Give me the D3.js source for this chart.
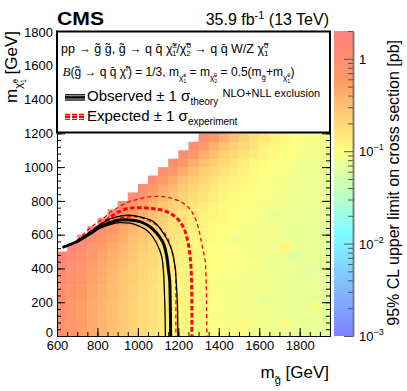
<!DOCTYPE html>
<html>
<head>
<meta charset="utf-8">
<script src="https://cdn.jsdelivr.net/npm/d3@7"></script>
<style>
body { margin: 0; background: #fff; }
svg { display: block; font-family: "Liberation Sans", Arial, Helvetica, sans-serif; }
</style>
</head>
<body>
<div id="chart"></div>
<script>
// gluino mass bins (lower edge, GeV) and LSP mass bins (lower edge, GeV)
var gluinoBins = [600, 650, 700, 750, 800, 850, 900, 950, 1000, 1050, 1100, 1150, 1200, 1250,
  1300, 1350, 1400, 1450, 1500, 1550, 1600, 1650, 1700, 1750, 1800, 1850, 1900];
var lspBins = [0, 50, 100, 150, 200, 250, 300, 350, 400, 450, 500, 550, 600, 650, 700, 750,
  800, 850, 900, 950, 1000, 1050, 1100, 1150];

// 95% CL upper limits [pb], one column per gluino bin, from LSP = 0 upwards
var lim600 = [0.83, 0.80, 0.86, 0.88, 0.90, 0.94, 1.0, 1.1, 1.3, 1.7];
var lim650 = [0.68, 0.68, 0.69, 0.71, 0.73, 0.75, 0.79, 0.85, 0.95, 1.2, 1.6];
var lim700 = [0.54, 0.55, 0.55, 0.56, 0.58, 0.60, 0.62, 0.66, 0.72, 0.82, 1.0, 1.4];
var lim750 = [0.44, 0.44, 0.45, 0.45, 0.46, 0.48, 0.50, 0.52, 0.56, 0.62, 0.72, 0.92, 1.3];
var lim800 = [0.36, 0.37, 0.37, 0.38, 0.38, 0.39, 0.41, 0.43, 0.45, 0.49, 0.55, 0.65, 0.85, 1.2];
var lim850 = [0.30, 0.30, 0.31, 0.31, 0.32, 0.32, 0.33, 0.35, 0.37, 0.39, 0.43, 0.49, 0.59, 0.79, 1.2];
var lim900 = [0.26, 0.26, 0.26, 0.27, 0.27, 0.28, 0.28, 0.29, 0.31, 0.33, 0.35, 0.39, 0.45, 0.55, 0.75, 1.2];
var lim950 = [0.22, 0.22, 0.22, 0.22, 0.23, 0.23, 0.24, 0.24, 0.25, 0.27, 0.29, 0.31, 0.35, 0.41, 0.51, 0.71, 1.1];
var lim1000 = [0.19, 0.19, 0.19, 0.19, 0.19, 0.20, 0.20, 0.21, 0.21, 0.22, 0.24, 0.26, 0.28, 0.32, 0.38, 0.48, 0.68, 1.1];
var lim1050 = [0.16, 0.17, 0.17, 0.17, 0.17, 0.17, 0.18, 0.18, 0.19, 0.19, 0.20, 0.22, 0.24, 0.26, 0.30, 0.36, 0.46, 0.66, 1.1];
var lim1100 = [0.14, 0.14, 0.15, 0.15, 0.15, 0.15, 0.15, 0.16, 0.16, 0.16, 0.17, 0.18, 0.20, 0.22, 0.24, 0.28, 0.34, 0.44, 0.64, 1.0];
var lim1150 = [0.13, 0.13, 0.13, 0.13, 0.13, 0.13, 0.13, 0.14, 0.14, 0.14, 0.15, 0.16, 0.17, 0.18, 0.20, 0.23, 0.27, 0.33, 0.43, 0.63, 1.0];
var lim1200 = [0.12, 0.12, 0.12, 0.12, 0.12, 0.12, 0.12, 0.12, 0.13, 0.13, 0.13, 0.14, 0.15, 0.16, 0.17, 0.19, 0.22, 0.26, 0.32, 0.42, 0.62, 1.0];
var lim1250 = [0.10, 0.11, 0.11, 0.11, 0.11, 0.11, 0.11, 0.11, 0.11, 0.12, 0.12, 0.12, 0.13, 0.14, 0.15, 0.16, 0.18, 0.21, 0.25, 0.31, 0.41, 0.61, 1.0];
var lim1300 = [0.10, 0.10, 0.10, 0.10, 0.10, 0.11, 0.11, 0.11, 0.11, 0.11, 0.11, 0.12, 0.12, 0.13, 0.13, 0.14, 0.16, 0.18, 0.20, 0.24, 0.30, 0.40, 0.60, 1.0];
var lim1350 = [0.097, 0.097, 0.088, 0.098, 0.098, 0.099, 0.10, 0.10, 0.10, 0.10, 0.10, 0.11, 0.11, 0.11, 0.12, 0.13, 0.14, 0.15, 0.17, 0.20, 0.24, 0.30, 0.40, 0.60];
var lim1400 = [0.092, 0.092, 0.092, 0.092, 0.093, 0.093, 0.080, 0.095, 0.096, 0.097, 0.098, 0.10, 0.10, 0.11, 0.11, 0.11, 0.12, 0.13, 0.14, 0.16, 0.19, 0.23, 0.29, 0.39];
var lim1450 = [0.090, 0.090, 0.090, 0.090, 0.090, 0.091, 0.091, 0.092, 0.093, 0.094, 0.095, 0.075, 0.098, 0.10, 0.10, 0.11, 0.11, 0.12, 0.13, 0.14, 0.16, 0.19, 0.23, 0.29];
var lim1500 = [0.087, 0.11, 0.087, 0.087, 0.087, 0.087, 0.088, 0.088, 0.089, 0.090, 0.091, 0.092, 0.093, 0.095, 0.098, 0.10, 0.10, 0.11, 0.12, 0.13, 0.14, 0.16, 0.19, 0.23];
var lim1550 = [0.084, 0.084, 0.084, 0.084, 0.084, 0.084, 0.084, 0.085, 0.10, 0.086, 0.087, 0.088, 0.089, 0.090, 0.092, 0.095, 0.098, 0.10, 0.11, 0.11, 0.12, 0.14, 0.16, 0.18];
var lim1600 = [0.082, 0.082, 0.082, 0.082, 0.070, 0.082, 0.082, 0.082, 0.083, 0.083, 0.084, 0.085, 0.086, 0.087, 0.088, 0.090, 0.093, 0.096, 0.10, 0.10, 0.11, 0.12, 0.13, 0.15];
var lim1650 = [0.080, 0.080, 0.080, 0.080, 0.080, 0.080, 0.080, 0.080, 0.080, 0.081, 0.081, 0.082, 0.083, 0.084, 0.070, 0.086, 0.088, 0.091, 0.094, 0.098, 0.10, 0.11, 0.12, 0.13];
var lim1700 = [0.077, 0.11, 0.077, 0.077, 0.077, 0.077, 0.077, 0.077, 0.077, 0.077, 0.12, 0.078, 0.079, 0.080, 0.081, 0.082, 0.083, 0.085, 0.088, 0.091, 0.095, 0.10, 0.11, 0.12];
var lim1750 = [0.074, 0.074, 0.074, 0.074, 0.074, 0.074, 0.074, 0.074, 0.074, 0.058, 0.074, 0.075, 0.075, 0.076, 0.077, 0.078, 0.079, 0.080, 0.082, 0.085, 0.088, 0.092, 0.097, 0.10];
var lim1800 = [0.072, 0.072, 0.072, 0.072, 0.072, 0.072, 0.072, 0.062, 0.072, 0.072, 0.072, 0.072, 0.073, 0.073, 0.074, 0.075, 0.076, 0.077, 0.078, 0.080, 0.083, 0.086, 0.090, 0.095];
var lim1850 = [0.072, 0.072, 0.072, 0.090, 0.072, 0.072, 0.072, 0.072, 0.072, 0.072, 0.072, 0.072, 0.072, 0.073, 0.073, 0.074, 0.075, 0.076, 0.077, 0.078, 0.080, 0.083, 0.086, 0.090];
var lim1900 = [0.070, 0.070, 0.070, 0.070, 0.070, 0.070, 0.070, 0.070, 0.070, 0.070, 0.070, 0.070, 0.063, 0.070, 0.071, 0.071, 0.072, 0.073, 0.074, 0.075, 0.076, 0.078, 0.081, 0.084];
var limitColumns = [lim600, lim650, lim700, lim750, lim800, lim850, lim900, lim950, lim1000,
  lim1050, lim1100, lim1150, lim1200, lim1250, lim1300, lim1350, lim1400, lim1450, lim1500,
  lim1550, lim1600, lim1650, lim1700, lim1750, lim1800, lim1850, lim1900];

// exclusion contours, [m_gluino, m_LSP] in GeV
var obsCentral = [[628, 525], [697, 558], [763, 608], [813, 647], [862, 671], [912, 687], [961, 687],
  [1011, 677], [1060, 647], [1093, 608], [1126, 549], [1143, 470], [1151, 391], [1157, 332],
  [1160, 200], [1162, 0]];
var obsUp = [[628, 525], [700, 562], [763, 615], [813, 660], [862, 693], [912, 710], [961, 715],
  [1011, 706], [1050, 692], [1076, 677], [1105, 645], [1126, 608], [1150, 560], [1167, 509],
  [1184, 410], [1189, 332], [1195, 200], [1198, 0]];
var obsDown = [[628, 525], [697, 555], [763, 600], [813, 638], [862, 660], [912, 671], [960, 668],
  [994, 657], [1030, 637], [1060, 608], [1093, 549], [1118, 470], [1126, 391], [1130, 300],
  [1134, 150], [1136, 0]];
var expCentral = [[700, 560], [763, 612], [813, 655], [862, 702], [895, 730], [945, 753], [1000, 760],
  [1060, 756], [1100, 750], [1142, 736], [1180, 710], [1208, 677], [1230, 630], [1241, 588],
  [1252, 530], [1258, 470], [1263, 400], [1266, 300], [1267, 150], [1267, 0]];
var expUp = [[700, 565], [763, 640], [829, 697], [862, 730], [895, 756], [945, 790], [994, 808],
  [1060, 825], [1100, 827], [1142, 823], [1180, 810], [1225, 786], [1255, 755], [1274, 720],
  [1292, 670], [1307, 600], [1320, 520], [1332, 450], [1338, 300], [1340, 150], [1341, 0]];
var expDown = [[700, 560], [763, 610], [813, 650], [862, 680], [912, 698], [960, 706], [994, 706],
  [1040, 690], [1093, 657], [1120, 625], [1143, 588], [1160, 540], [1172, 490], [1182, 420],
  [1187, 350], [1188, 200], [1188, 0]];

var xTicks = [600, 800, 1000, 1200, 1400, 1600, 1800];
var yTicks = [0, 200, 400, 600, 800, 1000, 1200, 1400, 1600, 1800];
var zTicks = [0.001, 0.01, 0.1, 1];
var zTickBase = ["10", "10", "10", "1"];
var zTickExp = ["\u22123", "\u22122", "\u22121", ""];

var svgWidth = 407;
var svgHeight = 391;
var frame = { left: 57, right: 330, top: 32, bottom: 336 };
var binWidth = 50;

var svg = d3.select("#chart").append("svg")
  .attr("width", svgWidth)
  .attr("height", svgHeight);

svg.append("rect").attr("width", svgWidth).attr("height", svgHeight).attr("fill", "#fff");

var x = d3.scaleLinear().domain([600, 1950]).range([frame.left, frame.right]);
var y = d3.scaleLinear().domain([0, 1800]).range([frame.bottom, frame.top]);

// palette: blue -> cyan -> yellow -> orange -> red on a log z axis from 1e-3 to 2 pb
var zMin = 0.001, zMax = 2;
var paletteStops = [0, 0.34, 0.61, 0.84, 1];
var paletteColors = ["#8080ff", "#80ffff", "#ffff80", "#ff9966", "#ff8080"];
var logSpan = Math.log10(zMax) - Math.log10(zMin);
var color = d3.scaleLog()
  .domain(paletteStops.map(s => Math.pow(10, Math.log10(zMin) + s * logSpan)))
  .range(paletteColors)
  .clamp(true);

// flatten cells
var cells = [];
gluinoBins.forEach(function(g, i) {
  limitColumns[i].forEach(function(v, j) {
    cells.push({ g: g, l: lspBins[j], v: v });
  });
});

svg.append("g")
  .selectAll("rect")
  .data(cells)
  .enter()
  .append("rect")
  .attr("x", d => x(d.g))
  .attr("y", d => y(d.l + binWidth))
  .attr("width", d => x(d.g + binWidth) - x(d.g) + 0.4)
  .attr("height", d => y(d.l) - y(d.l + binWidth) + 0.4)
  .attr("fill", d => color(d.v));

// contours
var line = d3.line()
  .x(d => x(d[0]))
  .y(d => y(d[1]))
  .curve(d3.curveCatmullRom.alpha(0.5));

var curves = svg.append("g").attr("fill", "none");
curves.append("path").attr("d", line(expUp)).attr("stroke", "#ff0000")
  .attr("stroke-width", 1.3).attr("stroke-dasharray", "4,3");
curves.append("path").attr("d", line(expDown)).attr("stroke", "#ff0000")
  .attr("stroke-width", 1.3).attr("stroke-dasharray", "4,3");
curves.append("path").attr("d", line(expCentral)).attr("stroke", "#ff0000")
  .attr("stroke-width", 3).attr("stroke-dasharray", "4.5,2.5");
curves.append("path").attr("d", line(obsUp)).attr("stroke", "#000").attr("stroke-width", 1.3);
curves.append("path").attr("d", line(obsDown)).attr("stroke", "#000").attr("stroke-width", 1.3);
curves.append("path").attr("d", line(obsCentral)).attr("stroke", "#000").attr("stroke-width", 3);

// axes, ticks pointing inward
function styleAxis(g) {
  g.selectAll("path.domain").attr("stroke", "#000");
  g.selectAll(".tick line").attr("stroke", "#000");
  g.selectAll("text").attr("font-family", "Liberation Sans, Arial, sans-serif")
    .attr("font-size", 13).attr("fill", "#000");
}

var xMinor = d3.range(600, 1951, 50);
var yMinor = d3.range(0, 1801, 40);
var intFormat = d3.format("d");

svg.append("g").attr("transform", `translate(0, ${frame.bottom})`)
  .call(d3.axisBottom(x).tickValues(xMinor).tickSize(-4).tickSizeOuter(0).tickFormat(""))
  .call(styleAxis);
svg.append("g").attr("transform", `translate(0, ${frame.bottom})`)
  .call(d3.axisBottom(x).tickValues(xTicks).tickSize(-8).tickSizeOuter(0).tickPadding(5)
    .tickFormat(intFormat))
  .call(styleAxis);
svg.append("g").attr("transform", `translate(${frame.left}, 0)`)
  .call(d3.axisLeft(y).tickValues(yMinor).tickSize(-4).tickSizeOuter(0).tickFormat(""))
  .call(styleAxis);
svg.append("g").attr("transform", `translate(${frame.left}, 0)`)
  .call(d3.axisLeft(y).tickValues(yTicks).tickSize(-8).tickSizeOuter(0).tickPadding(4)
    .tickFormat(intFormat))
  .call(styleAxis)
  .call(g => g.selectAll("text").filter(d => d === 0).attr("dy", "0em"));
svg.append("g").attr("transform", `translate(${frame.right}, 0)`)
  .call(d3.axisRight(y).tickValues(yMinor).tickSize(-4).tickSizeOuter(0).tickFormat(""))
  .call(styleAxis);
svg.append("g").attr("transform", `translate(${frame.right}, 0)`)
  .call(d3.axisRight(y).tickValues(yTicks).tickSize(-8).tickSizeOuter(0).tickFormat(""))
  .call(styleAxis);

// rich text helper: parts = {t, off (baseline offset), size, dx, it}
function addRich(parent, px, py, size, parts, anchor, transform) {
  var t = parent.append("text")
    .attr("font-size", size)
    .attr("text-anchor", anchor || "start")
    .attr("fill", "#000");
  if (transform) t.attr("transform", transform);
  else t.attr("x", px).attr("y", py);
  var cur = 0;
  parts.forEach(function(p) {
    var off = p.off || 0;
    var s = t.append("tspan").text(p.t)
      .attr("dy", off - cur)
      .attr("font-size", p.size || size);
    if (p.dx) s.attr("dx", p.dx);
    if (p.it) s.attr("font-style", "italic").attr("font-family", "Liberation Serif, serif");
    cur = off;
  });
  return t;
}

// legend box
var legend = svg.append("g");
legend.append("rect")
  .attr("x", frame.left).attr("y", frame.top - 0.5)
  .attr("width", frame.right - frame.left).attr("height", 101)
  .attr("fill", "#fff").attr("stroke", "#000").attr("stroke-width", 2);

var chi = "\u03c7\u0303";
var gl = "g\u0303";
var qbar = "q\u0304";
addRich(legend, 61, 53, 12.5, [
  { t: "pp \u2192 " + gl + " " + gl + ", " + gl + " \u2192 q " + qbar + " " + chi },
  { t: "\u00b1", off: -5, size: 8 },
  { t: "1", off: 3, size: 8, dx: -5 },
  { t: "/" + chi },
  { t: "0", off: -5, size: 8 },
  { t: "2", off: 3, size: 8, dx: -4.5 },
  { t: " \u2192 q " + qbar + " W/Z " + chi },
  { t: "0", off: -5, size: 8 },
  { t: "1", off: 3, size: 8, dx: -4.5 }
]);
addRich(legend, 62.5, 76, 12, [
  { t: "B", it: true, size: 13 },
  { t: "(" + gl + " \u2192 q " + qbar + " " + chi },
  { t: "i", off: -5, size: 8 },
  { t: ") = 1/3, m" },
  { t: chi, off: 4, size: 8 },
  { t: "\u00b1", off: 1, size: 5.5 },
  { t: "1", off: 7, size: 5.5, dx: -3 },
  { t: " = m" },
  { t: chi, off: 4, size: 8 },
  { t: "0", off: 1, size: 5.5 },
  { t: "2", off: 7, size: 5.5, dx: -3 },
  { t: " = 0.5(m" },
  { t: gl, off: 4, size: 8 },
  { t: "+m" },
  { t: chi, off: 4, size: 8 },
  { t: "0", off: 1, size: 5.5 },
  { t: "1", off: 7, size: 5.5, dx: -3 },
  { t: ")" }
]);

// legend symbols
legend.append("line").attr("x1", 65).attr("x2", 85).attr("y1", 94.8).attr("y2", 94.8)
  .attr("stroke", "#000").attr("stroke-width", 1.3);
legend.append("line").attr("x1", 65).attr("x2", 85).attr("y1", 97.4).attr("y2", 97.4)
  .attr("stroke", "#000").attr("stroke-width", 2.5);
legend.append("line").attr("x1", 65).attr("x2", 85).attr("y1", 100).attr("y2", 100)
  .attr("stroke", "#000").attr("stroke-width", 1.3);
legend.append("line").attr("x1", 65).attr("x2", 85).attr("y1", 114.4).attr("y2", 114.4)
  .attr("stroke", "#ff0000").attr("stroke-width", 1.3).attr("stroke-dasharray", "5,2");
legend.append("line").attr("x1", 65).attr("x2", 85).attr("y1", 116.8).attr("y2", 116.8)
  .attr("stroke", "#ff0000").attr("stroke-width", 2.5).attr("stroke-dasharray", "5,2");
legend.append("line").attr("x1", 65).attr("x2", 85).attr("y1", 119.3).attr("y2", 119.3)
  .attr("stroke", "#ff0000").attr("stroke-width", 1.3).attr("stroke-dasharray", "5,2");

addRich(legend, 87, 101, 15, [
  { t: "Observed \u00b1 1 \u03c3" },
  { t: "theory", off: 4, size: 10 }
]);
addRich(legend, 87, 121, 15, [
  { t: "Expected \u00b1 1 \u03c3" },
  { t: "experiment", off: 4, size: 10 }
]);
legend.append("text").attr("x", 222.5).attr("y", 97).attr("font-size", 11)
  .text("NLO+NLL exclusion");

// color bar
var zScale = d3.scaleLog().domain([zMin, zMax]).range([336, 31]);
var grad = svg.append("defs").append("linearGradient")
  .attr("id", "zgrad").attr("x1", 0).attr("y1", 1).attr("x2", 0).attr("y2", 0);
paletteStops.forEach(function(s, i) {
  grad.append("stop").attr("offset", s).attr("stop-color", paletteColors[i]);
});
svg.append("rect").attr("x", 334).attr("y", 31).attr("width", 19).attr("height", 305)
  .attr("fill", "url(#zgrad)");

var zMinor = zScale.ticks().filter(v => zTicks.indexOf(v) < 0);
svg.append("g").attr("transform", "translate(353, 0)")
  .call(d3.axisRight(zScale).tickValues(zMinor).tickSize(-5).tickSizeOuter(0).tickFormat(""))
  .call(function(g) {
    g.selectAll("path.domain").attr("stroke", "#777").attr("stroke-width", 1.5);
    g.selectAll(".tick line").attr("stroke", "#555");
  });
svg.append("g").attr("transform", "translate(353, 0)")
  .call(d3.axisRight(zScale).tickValues(zTicks).tickSize(-9).tickSizeOuter(0).tickFormat(""))
  .call(function(g) {
    g.selectAll("path.domain").attr("stroke", "#777").attr("stroke-width", 1.5);
    g.selectAll(".tick line").attr("stroke", "#555");
  });

zTicks.forEach(function(v, i) {
  var parts = [{ t: zTickBase[i] }];
  if (zTickExp[i]) parts.push({ t: zTickExp[i], off: -6, size: 9 });
  addRich(svg, 359, zScale(v) + 5, 13, parts);
});

// titles
svg.append("text").attr("x", 57).attr("y", 25).attr("font-size", 18)
  .attr("font-weight", "bold").attr("textLength", 47).attr("lengthAdjust", "spacingAndGlyphs")
  .text("CMS");
addRich(svg, 329, 25, 16, [
  { t: "35.9 fb" },
  { t: "-1", off: -6, size: 11 },
  { t: " (13 TeV)" }
], "end");

addRich(svg, 0, 0, 17, [
  { t: "m" },
  { t: chi, off: 5, size: 11 },
  { t: "0", off: 1, size: 7 },
  { t: "1", off: 9, size: 7, dx: -4 },
  { t: " [GeV]" }
], "end", "translate(17, 31) rotate(-90)");

addRich(svg, 329, 378, 17, [
  { t: "m" },
  { t: gl, off: 6, size: 11 },
  { t: " [GeV]" }
], "end");

svg.append("text").attr("transform", "translate(399, 40) rotate(-90)")
  .attr("text-anchor", "end").attr("font-size", 16)
  .text("95% CL upper limit on cross section [pb]");
</script>
</body>
</html>
